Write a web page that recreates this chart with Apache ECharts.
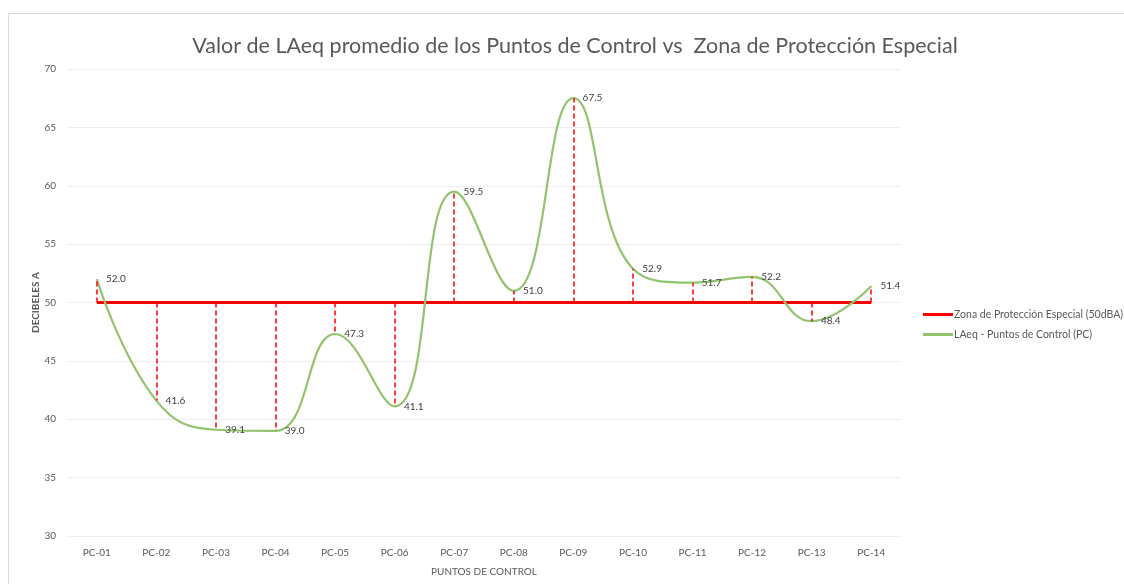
<!DOCTYPE html>
<html>
<head>
<meta charset="utf-8">
<script src="https://cdn.jsdelivr.net/npm/echarts@6/dist/echarts.min.js"></script>
<style>
html,body{margin:0;padding:0;background:#fff;}
#chart{width:1124px;height:584px;}
</style>
</head>
<body>
<div id="chart"></div>
<script>
// Control points and their average LAeq values (dBA)
const categories = ['PC-01','PC-02','PC-03','PC-04','PC-05','PC-06','PC-07','PC-08','PC-09','PC-10','PC-11','PC-12','PC-13','PC-14'];
const laeqValues = [52.0, 41.6, 39.1, 39.0, 47.3, 41.1, 59.5, 51.0, 67.5, 52.9, 51.7, 52.2, 48.4, 51.4];
const zoneLimit = [50, 50, 50, 50, 50, 50, 50, 50, 50, 50, 50, 50, 50, 50];
const yTicks = [30, 35, 40, 45, 50, 55, 60, 65, 70];

const FONT = 'Lato, "Open Sans", sans-serif';
const TXT = '#595959';
const RED = '#ff0000';
const GREEN = '#92c46d';

const chart = echarts.init(document.getElementById('chart'), null, {renderer: 'canvas'});

// dashed drop lines joining each LAeq point to the 50 dBA limit
const dropLines = laeqValues.map((v, i) => [
  {coord: [i, zoneLimit[i]]},
  {coord: [i, v]}
]);

chart.setOption({
  animation: false,
  backgroundColor: '#fff',
  graphic: [{
    type: 'rect',
    shape: {x: 8.5, y: 13.5, width: 1130, height: 600},
    style: {fill: 'none', stroke: '#d9d9d9', lineWidth: 1},
    silent: true,
    z: -10
  }],
  title: {
    text: 'Valor de LAeq promedio de los Puntos de Control vs  Zona de Protección Especial',
    left: 570,
    textAlign: 'center',
    top: 30,
    textStyle: {fontFamily: FONT, fontSize: 21.5, fontWeight: 'normal', color: TXT}
  },
  legend: {
    orient: 'vertical',
    left: 918,
    top: 304,
    itemWidth: 30,
    itemHeight: 3,
    itemGap: 9,
    textStyle: {fontFamily: FONT, fontSize: 10.5, color: TXT, padding: [0, 0, 0, -4]},
    data: [
      {name: 'Zona de Protección Especial (50dBA)', icon: 'rect', itemStyle: {color: RED, opacity: 1}},
      {name: 'LAeq - Puntos de Control (PC)', icon: 'rect', itemStyle: {color: GREEN, opacity: 1}}
    ]
  },
  grid: {left: 67, right: 223, top: 69, bottom: 48, containLabel: false},
  xAxis: {
    type: 'category',
    data: categories,
    boundaryGap: true,
    name: 'PUNTOS DE CONTROL',
    nameLocation: 'middle',
    nameGap: 31,
    nameTextStyle: {fontFamily: FONT, fontSize: 10, color: TXT},
    axisLine: {show: true, lineStyle: {color: '#eeeeee'}},
    axisTick: {show: false},
    axisLabel: {fontFamily: FONT, fontSize: 10, color: TXT, margin: 12}
  },
  yAxis: {
    type: 'value',
    min: yTicks[0],
    max: yTicks[yTicks.length - 1],
    interval: 5,
    name: 'DECIBELES A',
    nameLocation: 'middle',
    nameGap: 26,
    nameMoveOverlap: false,
    nameTextStyle: {fontFamily: FONT, fontSize: 10, fontWeight: 'bold', color: TXT},
    axisLine: {show: false},
    axisTick: {show: false},
    axisLabel: {fontFamily: FONT, fontSize: 10, color: TXT, margin: 11},
    splitLine: {lineStyle: {color: '#eeeeee', width: 1}}
  },
  series: [
    {
      name: 'Zona de Protección Especial (50dBA)',
      type: 'line',
      data: zoneLimit,
      symbol: 'none',
      itemStyle: {color: RED},
      lineStyle: {color: RED, width: 3},
      z: 3,
      markLine: {
        silent: true,
        symbol: 'none',
        label: {show: false},
        lineStyle: {color: RED, type: [5, 3], width: 1.5},
        data: dropLines
      }
    },
    {
      name: 'LAeq - Puntos de Control (PC)',
      type: 'line',
      data: laeqValues,
      smooth: 0.45,
      symbol: 'circle',
      symbolSize: 0.5,
      showSymbol: true,
      itemStyle: {color: GREEN},
      lineStyle: {color: GREEN, width: 2.2},
      z: 4,
      label: {
        show: true,
        position: 'right',
        distance: 9,
        fontFamily: FONT,
        fontSize: 10,
        color: '#404040',
        formatter: p => p.value.toFixed(1)
      }
    }
  ]
});
</script>
</body>
</html>
